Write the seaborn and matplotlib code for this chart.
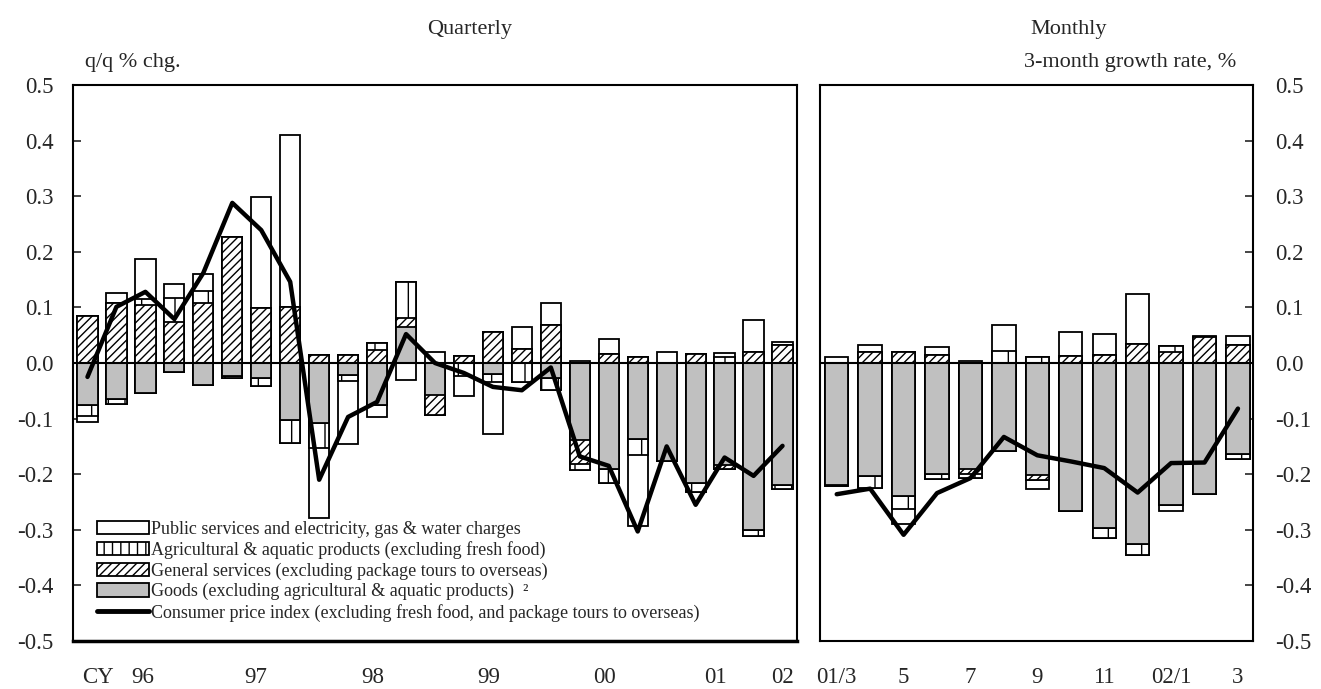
import matplotlib
matplotlib.use("Agg")
import matplotlib.pyplot as plt
from matplotlib.patches import Patch
from matplotlib.lines import Line2D
import numpy as np
import seaborn as sns

# ---- quarterly data (96Q1 .. 02Q1), contributions, q/q % chg.
q_goods = [-0.076, -0.065, -0.054, -0.016, -0.040, -0.024, -0.027, -0.103, -0.108, -0.022,
           -0.075, 0.065, -0.058, 0.0, -0.020, 0.0, -0.027, -0.139, -0.190, -0.136,
           -0.177, -0.216, -0.183, -0.300, -0.219]
q_general = [0.085, 0.108, 0.105, 0.074, 0.108, 0.227, 0.099, 0.101, 0.015, 0.015,
             0.024, 0.016, -0.036, 0.013, 0.056, 0.026, 0.068, -0.043, 0.017, 0.011,
             0.0, 0.017, -0.007, 0.019, 0.032]
q_agri = [-0.019, -0.008, 0.010, 0.043, 0.022, -0.003, -0.014, -0.041, -0.045, -0.010,
          0.012, 0.065, 0.0, -0.023, -0.014, -0.035, -0.022, -0.011, -0.025, -0.030,
          0.0, -0.016, 0.011, -0.011, -0.007]
q_public = [-0.011, 0.018, 0.072, 0.025, 0.030, 0.0, 0.200, 0.309, -0.126, -0.114,
            -0.022, -0.031, 0.020, -0.037, -0.094, 0.039, 0.040, 0.004, 0.026, -0.127,
            0.020, 0.0, 0.007, 0.058, 0.006]
q_cpi = [-0.025, 0.101, 0.128, 0.079, 0.162, 0.288, 0.239, 0.146, -0.210, -0.097,
         -0.070, 0.052, 0.000, -0.018, -0.043, -0.049, -0.008, -0.168, -0.185, -0.303,
         -0.150, -0.255, -0.170, -0.203, -0.149]
q_labels = ["CY", "96", "97", "98", "99", "00", "01", "02"]

# ---- monthly data (01/3 .. 02/3), 3-month growth rate, %
m_goods = [-0.219, -0.203, -0.239, -0.200, -0.190, -0.159, -0.201, -0.267, -0.297, -0.325,
           -0.255, -0.236, -0.163]
m_general = [0.0, 0.019, 0.020, 0.014, -0.009, 0.0, -0.009, 0.012, 0.015, 0.034,
             0.020, 0.046, 0.032]
m_agri = [-0.003, -0.021, -0.023, -0.008, -0.008, 0.021, 0.011, 0.0, -0.018, -0.020,
          0.011, 0.0, -0.010]
m_public = [0.011, 0.013, -0.028, 0.014, 0.003, 0.047, -0.017, 0.044, 0.038, 0.090,
            -0.011, 0.002, 0.016]
m_cpi = [-0.236, -0.226, -0.309, -0.234, -0.207, -0.133, -0.166, -0.177, -0.189, -0.233,
         -0.180, -0.179, -0.082]
m_labels = ["01/3", "5", "7", "9", "11", "02/1", "3"]

legend_labels = [
    "Public services and electricity, gas & water charges",
    "Agricultural & aquatic products (excluding fresh food)",
    "General services (excluding package tours to overseas)",
    "Goods (excluding agricultural & aquatic products)  \u00b2",
    "Consumer price index (excluding fresh food, and package tours to overseas)",
]

sns.set_style("white")
plt.rcParams["font.family"] = ["Liberation Serif", "DejaVu Serif"]
plt.rcParams["hatch.linewidth"] = 1.0

GRAY = "#c0c0c0"
EDGE_LW = 1.3
TICK_FS = 16.5
styles = {
    "goods": dict(color=GRAY, hatch=None),
    "general": dict(color="white", hatch="////"),
    "agri": dict(color="white", hatch="|"),
    "public": dict(color="white", hatch=None),
}


def draw_stack(ax, pos, layers):
    # stack from zero outwards: goods, general, agri, public
    for sign in (1, -1):
        total = np.zeros(len(pos))
        cums = []
        for vals, key in layers:
            v = np.asarray(vals, dtype=float)
            total = total + np.where(np.sign(v) == sign, v, 0.0)
            cums.append((total.copy(), key))
        # outermost first, inner layers painted over it
        for cum, key in reversed(cums):
            st = styles[key]
            sns.barplot(x=pos, y=cum, ax=ax, native_scale=True, width=0.7,
                        errorbar=None, saturation=1, color=st["color"],
                        hatch=st["hatch"], edgecolor="black", linewidth=EDGE_LW)


fig = plt.figure(figsize=(13.21, 6.89), dpi=100)
ax1 = fig.add_axes([73 / 1321, 48 / 689, 724 / 1321, 556 / 689])
ax2 = fig.add_axes([820 / 1321, 48 / 689, 433 / 1321, 556 / 689])

qpos = np.arange(len(q_cpi))
mpos = np.arange(len(m_cpi))

draw_stack(ax1, qpos, [(q_goods, "goods"), (q_general, "general"),
                       (q_agri, "agri"), (q_public, "public")])
draw_stack(ax2, mpos, [(m_goods, "goods"), (m_general, "general"),
                       (m_agri, "agri"), (m_public, "public")])

sns.lineplot(x=qpos, y=q_cpi, ax=ax1, color="black", lw=3.2, zorder=5)
sns.lineplot(x=mpos, y=m_cpi, ax=ax2, color="black", lw=3.2, zorder=5)

yt = np.round(np.arange(-0.5, 0.51, 0.1), 1)
ylab = [f"{v:.1f}" if v != 0 else "0.0" for v in yt]

for ax in (ax1, ax2):
    ax.axhline(0, color="black", lw=1.5, zorder=4)
    ax.set_ylim(-0.5, 0.5)
    ax.set_yticks(yt, labels=ylab)
    ax.set_xlabel("")
    ax.set_ylabel("")
    for sp in ax.spines.values():
        sp.set_visible(True)
        sp.set_color("black")
        sp.set_linewidth(1.5)

# quarterly axis
ax1.set_xlim(-0.5, 24.5)
ax1.set_xticks(np.arange(3.5, 24, 4), labels=[""] * 6)
ax1.tick_params(axis="x", which="major", direction="inout", length=12, width=1.5)
ax1.set_xticks([0.35, 1.9, 5.8, 9.85, 13.85, 17.85, 21.7, 24.0], labels=q_labels, minor=True)
ax1.tick_params(axis="x", which="minor", length=0, pad=19, labelsize=TICK_FS)
ax1.tick_params(axis="y", direction="in", length=6, width=1.2, left=True, right=False,
                labelsize=TICK_FS, pad=14)
ax1.spines["bottom"].set_linewidth(2.5)

# monthly axis
ax2.set_xlim(-0.5, 12.45)
ax2.set_xticks(mpos[::2], labels=m_labels)
ax2.tick_params(axis="x", length=0, pad=19, labelsize=TICK_FS)
ax2.yaxis.tick_right()
ax2.tick_params(axis="y", direction="in", length=6, width=1.2, left=False, right=True,
                labelright=True, labelleft=False, labelsize=TICK_FS, pad=16)

ax1.text(0.548, 1.099, "Quarterly", transform=ax1.transAxes, ha="center", va="center", fontsize=16)
ax2.text(0.575, 1.099, "Monthly", transform=ax2.transAxes, ha="center", va="center", fontsize=16)
ax1.text(0.017, 1.041, "q/q % chg.", transform=ax1.transAxes, ha="left", va="center", fontsize=16)
ax2.text(0.961, 1.041, "3-month growth rate, %", transform=ax2.transAxes, ha="right",
         va="center", fontsize=16)

handles = [
    Patch(facecolor="white", edgecolor="black", lw=EDGE_LW),
    Patch(facecolor="white", edgecolor="black", hatch="||", lw=EDGE_LW),
    Patch(facecolor="white", edgecolor="black", hatch="////", lw=EDGE_LW),
    Patch(facecolor=GRAY, edgecolor="black", lw=EDGE_LW),
    Line2D([], [], color="black", lw=3.5),
]
ax1.legend(handles, legend_labels, loc="lower left", bbox_to_anchor=(0.033, 0.035),
           frameon=False, fontsize=13, handlelength=2.9, handleheight=0.75,
           handletextpad=0.12, labelspacing=0.18, borderpad=0, borderaxespad=0)

fig.savefig("out.png", dpi=100)
